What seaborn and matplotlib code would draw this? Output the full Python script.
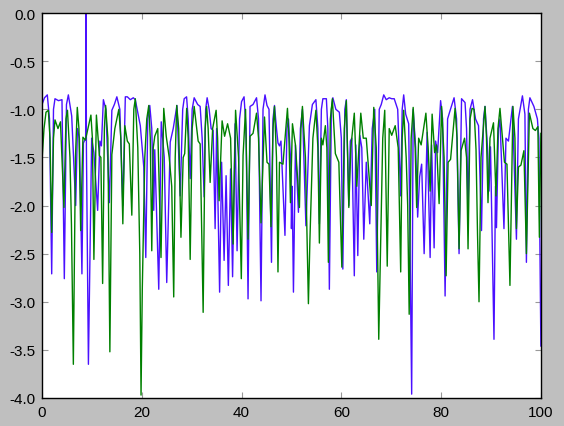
import numpy as np
import pandas as pd
import matplotlib
matplotlib.use("Agg")
import matplotlib.pyplot as plt
import seaborn as sns

# values (x, y pairs for each line)
blue_x = [0.0, 0.5, 1.06, 1.5, 1.94, 2.3, 2.6, 3.3, 4.0, 4.47, 4.9, 5.28, 5.95, 6.75, 7.1, 7.5,
          8.0, 8.3, 8.75, 8.82, 8.9, 9.3, 9.95, 10.4, 11.15, 11.6, 11.9, 12.3, 12.8, 13.5, 14.0,
          14.5, 15.0, 15.6, 16.2, 16.7, 17.1, 17.7, 18.3, 18.7, 19.7, 20.4, 20.8, 21.2, 21.6,
          22.0, 22.4, 22.6, 23.4, 23.9, 24.5, 25.0, 25.7, 26.3, 27.05, 27.7, 28.2, 28.5, 28.98,
          29.3, 29.7, 30.1, 30.5, 31.2, 31.7, 32.1, 32.5, 32.8, 33.1, 33.5, 33.9, 34.3, 34.7,
          35.0, 35.6, 36.0, 36.5, 36.9, 37.35, 37.8, 38.2, 38.7, 39.1, 39.6, 40.0, 40.5, 40.9,
          41.3, 41.7, 42.3, 43.0, 43.4, 43.9, 44.3, 44.7, 45.1, 45.5, 46.0, 46.3, 46.6, 47.0,
          47.3, 47.6, 47.9, 48.7, 49.1, 49.4, 49.9, 50.0, 50.15, 50.4, 50.8, 51.4, 51.8, 52.2,
          52.9, 53.6, 54.2, 54.9, 55.3, 55.6, 56.0, 56.3, 57.0, 57.3, 57.6, 58.0, 58.3, 58.9,
          59.6, 60.0, 60.3, 60.7, 61.0, 61.5, 61.8, 62.1, 62.6, 62.9, 63.3, 63.7, 64.1, 64.5,
          65.0, 65.7, 66.2, 66.7, 67.1, 67.6, 68.0, 68.5, 69.0, 69.6, 70.1, 70.6, 71.3, 71.9,
          72.2, 72.5, 72.9, 73.5, 74.1, 74.4, 74.9, 75.3, 75.7, 76.1, 76.6, 77.2, 77.8, 78.1,
          78.6, 78.9, 79.3, 79.9, 80.3, 80.8, 81.3, 81.7, 82.6, 83.1, 83.6, 84.1, 84.8, 85.1,
          85.4, 85.8, 86.3, 86.9, 87.5, 88.1, 88.5, 88.8, 89.3, 89.6, 89.9, 90.6, 90.9, 91.1,
          91.5, 91.8, 92.6, 93.0, 93.5, 94.3, 95.1, 95.5, 96.3, 96.8, 97.1, 97.5, 97.8, 98.6,
          99.3, 99.6, 100.0]
blue_y = [-0.95, -0.88, -0.85, -1.1, -2.71, -1.0, -0.89, -0.91, -0.9, -2.76, -0.95, -0.85, -1.07, -2.0, -1.2, -1.3,
          -2.71, -1.35, -1.3, 0.2, -1.4, -3.65, -1.3, -1.45, -2.05, -1.33, -1.38, -0.9, -1.0, -1.97, -1.01,
          -0.95, -0.87, -1.0, -2.0, -0.87, -0.87, -0.9, -0.88, -0.9, -1.17, -1.6, -2.54, -1.1, -0.96,
          -1.2, -2.05, -1.42, -2.87, -1.13, -1.5, -2.8, -1.34, -1.2, -0.96, -1.9, -1.0, -0.89, -0.87,
          -1.1, -1.72, -1.0, -0.88, -0.95, -0.97, -1.3, -1.91, -1.0, -0.88, -1.0, -1.2, -1.22, -2.24,
          -1.2, -2.9, -1.55, -2.57, -1.69, -2.83, -1.62, -2.74, -1.15, -2.47, -1.1, -0.92, -0.87, -1.2,
          -2.97, -0.97, -0.95, -0.88, -1.1, -2.99, -1.0, -0.85, -0.96, -1.0, -2.59, -1.1, -0.96, -1.2,
          -1.35, -1.38, -1.33, -2.31, -1.2, -1.1, -1.6, -2.24, -1.8, -2.9, -1.37, -2.07, -1.2, -1.0,
          -2.21, -1.17, -0.95, -0.9, -1.2, -2.19, -1.0, -0.89, -0.89, -1.2, -2.87, -1.0, -0.88, -1.0,
          -1.03, -1.3, -2.66, -1.0, -0.9, -2.0, -1.33, -1.3, -2.73, -1.37, -2.52, -1.27, -1.4, -2.35,
          -1.55, -2.19, -1.2, -1.0, -2.69, -1.0, -0.95, -0.85, -0.9, -0.88, -0.89, -0.89, -1.0, -1.9,
          -1.0, -0.85, -1.05, -1.15, -3.96, -1.0, -1.4, -2.12, -1.7, -1.57, -2.5, -1.24, -2.54, -1.37,
          -2.44, -1.33, -1.45, -0.91, -1.1, -2.94, -1.1, -1.03, -0.88, -1.1, -2.5, -0.89, -0.93, -1.2,
          -2.04, -1.0, -0.9, -1.1, -1.17, -2.26, -1.1, -0.97, -1.4, -1.85, -1.39, -3.39, -1.8, -2.23,
          -1.2, -1.1, -2.24, -1.3, -1.33, -0.97, -2.35, -1.1, -0.86, -1.05, -2.59, -1.0, -0.88, -0.97,
          -1.1, -1.3, -3.46]

green_x = [0.0, 0.4, 0.8, 1.27, 1.6, 1.94, 2.3, 2.6, 3.2, 3.7, 4.4, 4.8, 5.1, 5.6, 5.9, 6.28, 6.7,
           7.07, 7.4, 7.75, 8.2, 8.7, 9.2, 9.8, 10.1, 10.4, 10.9, 11.5, 11.8, 12.15, 12.5, 12.75,
           13.2, 13.6, 14.0, 14.6, 15.4, 15.8, 16.2, 16.6, 17.1, 17.5, 18.0, 18.4, 18.7, 19.2, 19.6,
           19.85, 20.1, 20.6, 21.0, 21.4, 21.7, 22.0, 22.3, 22.6, 23.2, 23.85, 24.4, 24.9, 25.5, 26.0,
           26.4, 26.7, 27.0, 27.4, 27.85, 28.3, 28.6, 29.0, 29.3, 29.7, 30.1, 30.5, 31.0, 31.3, 31.7,
           32.3, 32.7, 33.0, 33.3, 33.7, 34.2, 34.9, 35.2, 35.5, 36.1, 36.6, 37.2, 37.8, 38.3, 38.8,
           39.4, 39.95, 40.3, 40.8, 41.3, 41.7, 42.3, 43.0, 43.4, 43.9, 44.6, 45.1, 45.5, 45.9, 46.3,
           46.6, 47.0, 47.3, 47.6, 48.3, 49.2, 49.5, 49.8, 50.2, 50.8, 51.6, 51.9, 52.2, 52.8, 53.4,
           53.7, 54.3, 54.9, 55.3, 55.6, 56.0, 56.3, 56.8, 57.1, 57.4, 57.8, 58.2, 58.8, 59.5, 60.1,
           60.6, 61.0, 61.5, 61.9, 62.6, 63.1, 63.9, 64.4, 65.0, 66.0, 66.5, 67.0, 67.5, 67.9, 68.3,
           68.7, 69.2, 69.6, 70.1, 70.8, 71.4, 71.9, 72.2, 72.5, 73.0, 73.3, 73.6, 74.0, 74.4, 74.8,
           75.1, 75.5, 76.0, 76.95, 77.4, 77.8, 78.2, 78.7, 79.1, 79.6, 80.1, 80.6, 81.0, 81.4, 81.9,
           82.8, 83.2, 83.6, 84.0, 84.7, 85.1, 85.4, 85.8, 86.2, 86.6, 87.0, 87.3, 87.6, 88.0, 88.8,
           89.1, 89.4, 89.8, 90.5, 91.0, 91.4, 91.8, 92.3, 92.7, 93.2, 93.8, 94.4, 94.8, 95.1, 95.5,
           96.0, 96.6, 97.1, 97.7, 98.4, 98.9, 99.4, 99.7, 100.0]
green_y = [-1.53, -1.2, -1.03, -1.01, -1.3, -2.28, -1.3, -1.11, -1.2, -1.13, -2.02, -1.1, -1.01, -1.5, -2.2, -3.65, -1.5,
           -0.98, -1.2, -2.26, -1.29, -1.32, -1.2, -1.06, -1.3, -2.56, -1.06, -1.48, -1.5, -2.81, -1.2, -0.96,
           -1.3, -3.52, -1.47, -1.2, -1.0, -1.3, -2.19, -1.17, -1.33, -1.36, -2.1, -1.0, -0.89, -1.4, -2.5,
           -3.97, -2.87, -1.5, -1.1, -0.96, -1.3, -2.47, -1.4, -1.28, -1.2, -2.54, -0.99, -1.28, -1.5, -1.8,
           -2.95, -1.5, -0.96, -1.2, -2.33, -1.5, -1.46, -0.99, -1.3, -2.56, -1.2, -0.97, -1.2, -1.33, -1.36,
           -3.11, -1.2, -0.97, -1.2, -1.76, -1.2, -1.01, -1.3, -1.95, -1.12, -1.28, -1.15, -1.3, -2.4, -1.01,
           -1.5, -2.76, -1.48, -1.0, -2.35, -1.28, -1.25, -1.04, -1.3, -2.18, -1.08, -1.55, -1.57, -2.22, -1.2,
           -0.97, -1.5, -2.69, -1.55, -1.57, -0.99, -1.3, -1.97, -1.15, -1.37, -2.02, -1.2, -0.97, -1.5, -3.02,
           -2.36, -1.3, -1.01, -1.4, -2.39, -1.3, -1.37, -1.17, -1.4, -2.59, -1.1, -0.89, -1.46, -1.55, -2.64,
           -1.2, -0.91, -2.02, -1.4, -1.04, -1.8, -1.04, -1.3, -1.3, -2.0, -0.98, -1.4, -3.39, -2.35, -1.3,
           -1.01, -2.63, -1.2, -1.27, -1.17, -1.4, -2.69, -1.3, -1.01, -1.5, -2.0, -3.13, -1.3, -0.98, -1.4,
           -2.02, -1.3, -1.37, -1.04, -1.4, -1.85, -1.05, -1.45, -1.37, -1.98, -0.97, -1.5, -2.73, -1.55, -1.52,
           -0.99, -1.3, -2.45, -1.43, -1.3, -1.5, -2.45, -1.1, -0.99, -1.0, -1.42, -2.3, -3.0, -1.5, -0.97,
           -1.3, -1.97, -1.3, -1.14, -1.9, -1.2, -0.99, -1.3, -1.55, -1.57, -2.83, -0.97, -1.3, -2.24, -1.6,
           -1.58, -1.43, -2.5, -1.04, -1.2, -1.22, -1.18, -2.33, -1.25]

plt.rcParams['font.family'] = ['Liberation Sans', 'DejaVu Sans']

fig = plt.figure(figsize=(5.64, 4.27), dpi=100, facecolor='#bfbfbf')
ax = fig.add_axes([0.0745, 0.0656, 0.8845, 0.9014])
ax.set_facecolor('white')

sns.lineplot(x=blue_x, y=blue_y, ax=ax, color='#4a10ff', lw=1.0, sort=False, estimator=None)
sns.lineplot(x=green_x, y=green_y, ax=ax, color='#008000', lw=1.0, sort=False, estimator=None)

ax.set_xlim(0, 100)
ax.set_ylim(-4, 0)
ax.set_xticks([0, 20, 40, 60, 80, 100])
ax.set_yticks(np.arange(-4, 0.01, 0.5))
ax.set_yticklabels(['%.1f' % v for v in np.arange(-4, 0.01, 0.5)])
ax.tick_params(direction='in', top=True, right=True, length=4, width=0.8,
               color='#999999', labelsize=11, labelcolor='black', pad=5)
for s in ax.spines.values():
    s.set_color('black')
    s.set_linewidth(1.0)

fig.savefig('out.png', dpi=100, facecolor=fig.get_facecolor())
